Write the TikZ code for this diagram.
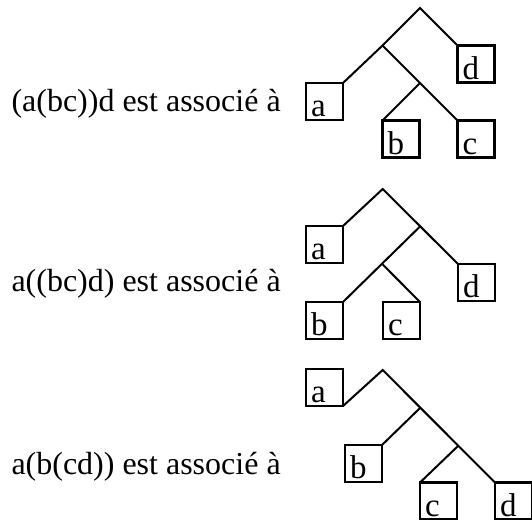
\documentclass[tikz,border=0pt]{standalone}
\usepackage{fontspec}
\setmainfont{Liberation Serif}
\begin{document}
\begin{tikzpicture}[x=1pt,y=-1pt, line width=2pt, line join=miter,
  leaf/.style={draw, line width=2.2pt, minimum size=37pt, inner sep=0pt, outer sep=0pt},
  lab/.style={font=\fontsize{33}{33}\selectfont, inner sep=0pt, anchor=base west},
  txt/.style={font=\fontsize{32}{32}\selectfont, inner sep=0pt, anchor=base west}]
\useasboundingbox (0,0) rectangle (532,519);

% texts
\node[txt] (t1) at (10.5,111.7) {(a(bc))d est associé à};
\node[txt] (t2) at (10.5,291) {a((bc)d) est associé à};
\node[txt] (t3) at (10.5,474) {a(b(cd)) est associé à};

% ---- diagram 1
\coordinate (A1) at (420,8);
\coordinate (n1) at (382.5,45.5);
\coordinate (n2) at (420,83);
\node[leaf] (a1) at (324.5,101.5) {};
\node[leaf] (d1) at (476,64) {};
\node[leaf] (b1) at (401,139) {};
\node[leaf] (c1) at (476,139) {};
\draw (a1.north east) -- (n1) -- (A1) -- (d1.north west);
\draw (n1) -- (c1.north west);
\draw (n2) -- (b1.north west);

% ---- diagram 2
\coordinate (A2) at (382.7,189);
\coordinate (n3) at (420,226.5);
\coordinate (n4) at (382.7,264.5);
\node[leaf] (a2) at (324.5,244.5) {};
\node[leaf] (d2) at (476.5,282.5) {};
\node[leaf] (b2) at (324.5,320.5) {};
\node[leaf] (c2) at (401.5,320.5) {};
\draw (a2.north east) -- (A2) -- (d2.north west);
\draw (n3) -- (b2.north east);
\draw (n4) -- (c2.north east);

% ---- diagram 3
\coordinate (A3) at (382.7,370);
\coordinate (n5) at (420,408);
\coordinate (n6) at (458,446);
\node[leaf] (a3) at (324.5,387.5) {};
\node[leaf] (b3) at (363.5,463.5) {};
\node[leaf] (c3) at (438.5,501) {};
\node[leaf] (d3) at (513.5,501) {};
\draw (a3.south east) -- (A3) -- (d3.north west);
\draw (n5) -- (b3.north east);
\draw (n6) -- (c3.north west);

% box letters
\foreach \b/\l in {a1/a,d1/d,b1/b,c1/c,a2/a,d2/d,b2/b,c2/c,a3/a,b3/b,c3/c,d3/d}
  \node[lab] at ([xshift=4pt,yshift=3.5pt]\b.south west) {\l};
\end{tikzpicture}
\end{document}
